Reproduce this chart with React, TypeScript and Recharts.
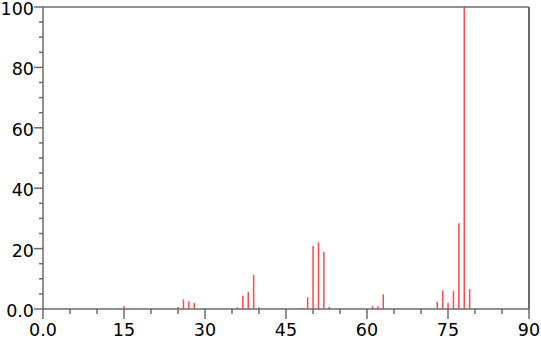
import { ComposedChart, Bar, XAxis, YAxis, ReferenceLine } from "recharts";

const mzValues = [15, 25, 26, 27, 28, 36, 37, 38, 39, 40, 48, 49, 50, 51, 52, 53, 61, 62, 63, 73, 74, 75, 76, 77, 78, 79];
const intensities = [1.0, 0.7, 3.2, 2.6, 2.1, 0.6, 4.4, 5.6, 11.3, 0.6, 0.3, 3.9, 20.9, 22.0, 18.9, 0.7, 1.0, 0.9, 4.9, 2.4, 6.1, 2.1, 5.9, 28.4, 100, 6.6];
const xTicks = [0, 5, 10, 15, 20, 25, 30, 35, 40, 45, 50, 55, 60, 65, 70, 75, 80, 85, 90];
const yTicks = [0, 5, 10, 15, 20, 25, 30, 35, 40, 45, 50, 55, 60, 65, 70, 75, 80, 85, 90, 95, 100];

const data = mzValues.map((mz, i) => ({ mz, intensity: intensities[i] }));

const axisColor = "#6b6b6b";
const font = "DejaVu Sans";

const fmt = (v: number) => (v === 0 ? "0.0" : String(v));

function XTick({ x, y, payload }: any) {
  const v = payload.value;
  const major = v % 15 === 0;
  return (
    <g>
      <line x1={x} x2={x} y1={y} y2={y + (major ? 10 : 5)} stroke={axisColor} strokeWidth={1.5} />
      {major && (
        <text x={x} y={y + 27} textAnchor="middle" fontFamily={font} fontSize={17.5} fill="#000">
          {fmt(v)}
        </text>
      )}
    </g>
  );
}

function YTick({ x, y, payload }: any) {
  const v = payload.value;
  const major = v % 20 === 0;
  return (
    <g>
      <line x1={x} x2={x - (major ? 9 : 4)} y1={y} y2={y} stroke={axisColor} strokeWidth={1.5} />
      {major && (
        <text x={x - 9} y={y + 8} textAnchor="end" fontFamily={font} fontSize={17.5} fill="#000">
          {fmt(v)}
        </text>
      )}
    </g>
  );
}

export default function App() {
  return (
    <div style={{ position: "absolute", left: 0, top: 0, background: "#fff" }}>
      <ComposedChart width={541} height={345} data={data} margin={{ top: 7, right: 12, bottom: 0, left: 0 }}>
        <XAxis
          dataKey="mz"
          type="number"
          domain={[0, 90]}
          ticks={xTicks}
          interval={0}
          height={36}
          tickSize={0}
          tickMargin={0}
          tickLine={false}
          axisLine={{ stroke: axisColor, strokeWidth: 1.5 }}
          tick={<XTick />}
        />
        <YAxis
          type="number"
          domain={[0, 100]}
          ticks={yTicks}
          interval={0}
          width={43}
          tickSize={0}
          tickMargin={0}
          tickLine={false}
          axisLine={{ stroke: axisColor, strokeWidth: 1.5 }}
          tick={<YTick />}
        />
        <ReferenceLine y={100} stroke={axisColor} strokeWidth={1.5} />
        <ReferenceLine x={90} stroke={axisColor} strokeWidth={2} />
        <Bar dataKey="intensity" fill="#ff4a4a" barSize={1.5} isAnimationActive={false} />
      </ComposedChart>
    </div>
  );
}
